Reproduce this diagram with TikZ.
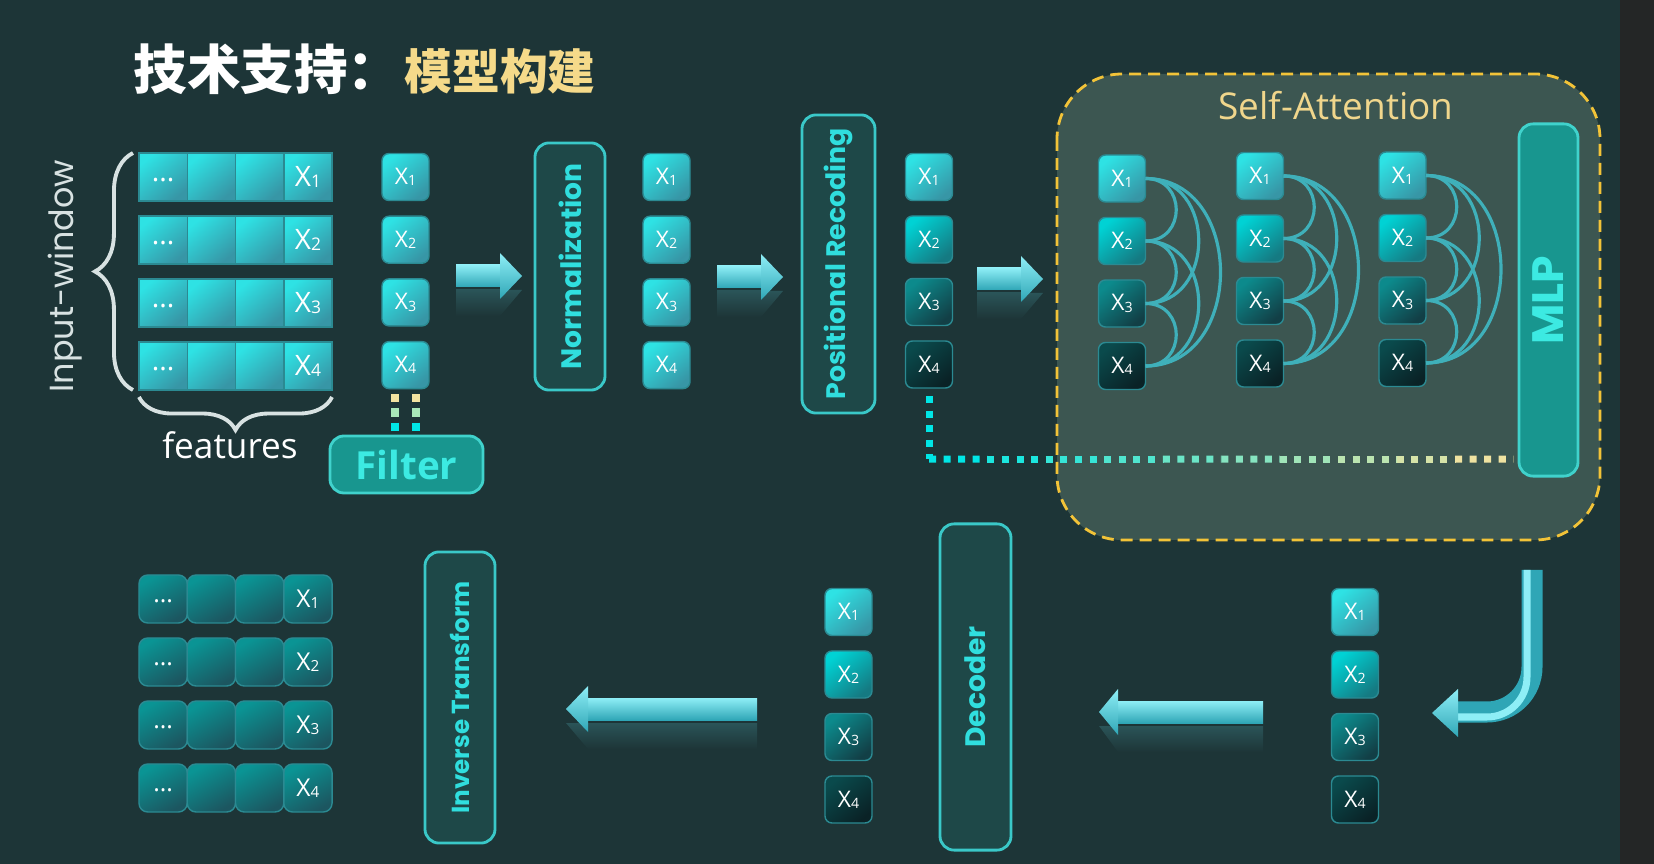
\documentclass[tikz,border=0pt]{standalone}
\usepackage{fontspec}
\setmainfont{Open Sans}
\newfontfamily\popfont{Poppins}
\newfontfamily\cjkfont{Noto Sans CJK SC}
\usetikzlibrary{positioning,calc,decorations.pathreplacing}

\definecolor{bgcol}{HTML}{1D3537}
\definecolor{stripcol}{HTML}{242626}
\definecolor{attfill}{HTML}{3C5651}
\definecolor{attdash}{HTML}{F2C338}
\definecolor{atttext}{HTML}{F0D68C}
\definecolor{titlegold}{HTML}{F5DA8A}
\definecolor{blockfill}{HTML}{1E4848}
\definecolor{blockedge}{HTML}{3AC8C8}
\definecolor{blocktext}{HTML}{30DEDE}
\definecolor{mlpfill}{HTML}{18968F}
\definecolor{mlpedge}{HTML}{40D2CC}
\definecolor{mlptext}{HTML}{3CEAE2}
\definecolor{xedge}{HTML}{2B8A92}
\definecolor{lvAtop}{HTML}{2EE2E4}
\definecolor{lvAbot}{HTML}{3796A6}
\definecolor{lvBtop}{HTML}{00D2D4}
\definecolor{lvBbot}{HTML}{157A82}
\definecolor{lvCtop}{HTML}{0C8A8C}
\definecolor{lvCbot}{HTML}{123F46}
\definecolor{lvDtop}{HTML}{0A4A4C}
\definecolor{lvDbot}{HTML}{0A2226}
\definecolor{outtop}{HTML}{0A9494}
\definecolor{outbot}{HTML}{1C5660}
\definecolor{arccol}{HTML}{3FB0BA}
\definecolor{dotcyn}{HTML}{00E6E6}
\definecolor{dotyel}{HTML}{F3E3A0}
\definecolor{dotmid}{HTML}{A8E8B8}
\definecolor{arrlt}{HTML}{8EEEF6}
\definecolor{arrdk}{HTML}{2FA6B6}
\definecolor{reflcol}{HTML}{2A5458}
\definecolor{bracecol}{HTML}{D8E2E2}

\newcommand{\xsub}[1]{X\raisebox{-0.1ex}{\scalebox{0.62}{#1}}}
\newcommand{\celldots}{\raisebox{-0.6ex}{...}}
%% 3D arrow: tail x, head back x, tip x, centre y
\newcommand{\fatarrow}[4]{%
  \shade[top color=reflcol, bottom color=bgcol] (#1,#4+14) rectangle (#2,#4+40);
  \shade[top color=reflcol, bottom color=bgcol] (#2,#4+14) -- (#3,#4+14) -- (#2,#4+40) -- cycle;
  \shade[top color=arrlt, bottom color=arrdk] (#1,#4-11) rectangle (#2,#4+11);
  \shade[top color=arrlt, bottom color=arrdk] (#2,#4-23) -- (#3,#4) -- (#2,#4+23) -- cycle;
}

\tikzset{
  xbox/.style={draw=xedge, line width=0.4pt, rounded corners=2pt, minimum width=0.47cm,
    minimum height=0.47cm, inner sep=0pt, outer sep=0pt, text=white,
    font=\fontsize{6.5}{7}\selectfont},
  lvA/.style={top color=lvAtop, bottom color=lvAbot, shading angle=40},
  lvB/.style={top color=lvBtop, bottom color=lvBbot, shading angle=40},
  lvC/.style={top color=lvCtop, bottom color=lvCbot, shading angle=40},
  lvD/.style={top color=lvDtop, bottom color=lvDbot, shading angle=40},
  mcell/.style={draw=xedge, line width=0.4pt, top color=lvAtop, bottom color=lvAbot,
    shading angle=40, minimum width=0.4825cm, minimum height=0.48cm, inner sep=0pt,
    outer sep=0pt, text=white, font=\fontsize{8}{9}\selectfont},
  ocell/.style={mcell, top color=outtop, bottom color=outbot, shading angle=30,
    rounded corners=2.5pt, font=\fontsize{7}{8}\selectfont},
  blockbox/.style={draw=blockedge, line width=0.8pt, fill=blockfill, rounded corners=4pt,
    inner sep=0pt, text=blocktext, font=\popfont\bfseries\fontsize{8}{9}\selectfont},
  mlpbox/.style={draw=mlpedge, line width=0.8pt, fill=mlpfill, rounded corners=4pt,
    inner sep=0pt, minimum width=0.59cm, minimum height=3.52cm, text=mlptext,
    font=\popfont\bfseries\fontsize{12.5}{14}\selectfont},
  filterbox/.style={draw=mlpedge, line width=0.8pt, fill=mlpfill, rounded corners=4pt,
    minimum width=1.53cm, minimum height=0.57cm, text=mlptext,
    font=\bfseries\fontsize{11}{12}\selectfont},
  attbox/.style={draw=attdash, fill=attfill, line width=0.8pt,
    dash pattern=on 3.4pt off 2pt, rounded corners=0.65cm},
  attarc/.style={draw=arccol, line width=0.9pt},
  sqdots/.style={line width=0.07cm, dash pattern=on 0.07cm off 0.0753cm},
  bracket/.style={decorate, draw=bracecol, line width=1.1pt}
}

\begin{document}
\begin{tikzpicture}[x=0.01cm,y=-0.01cm]
  \useasboundingbox (0,0) rectangle (1654,864);
  \fill[bgcol] (0,0) rectangle (1654,864);
  \fill[stripcol] (1620,0) rectangle (1654,864);

  %% title
  \node[anchor=base west, inner sep=0pt, font=\cjkfont\bfseries] (title) at (133,90)
    {\textcolor{white}{\fontsize{15.2}{17}\selectfont 技术支持：}\hspace{1pt}%
     \textcolor{titlegold}{\fontsize{13.6}{16}\selectfont 模型构建}};

  %% self-attention frame
  \draw[attbox] (1057,74) rectangle (1600,540);
  \node[text=atttext, font=\fontsize{10.5}{12}\selectfont] (atttitle) at (1336,106) {Self-Attention};

  %% big arrows
  \fatarrow{456}{500}{522}{276}
  \fatarrow{717}{761}{783}{277}
  \fatarrow{977}{1021}{1043}{279}
  \fatarrow{1263}{1118}{1099}{712}
  \fatarrow{757}{588}{566}{709}

  %% turning arrow
  \draw[line width=0.21cm, arrdk, rounded corners=0.45cm] (1532,570) -- (1532,712) -- (1456,712);
  \draw[line width=0.07cm, arrlt, rounded corners=0.4cm] (1527,570) -- (1527,717) -- (1456,717);
  \shade[top color=arrlt, bottom color=arrdk] (1458,689) -- (1432,713) -- (1458,737) -- cycle;

  %% input window
  \foreach \r in {1,...,4} {
    \node[mcell] (m\r1) at (163.1,{177+63*(\r-1)}) {\celldots};
    \node[mcell, right=0pt of m\r1] (m\r2) {};
    \node[mcell, right=0pt of m\r2] (m\r3) {};
    \node[mcell, right=0pt of m\r3] (m\r4) {\xsub{\r}};
  }
  \draw[bracket, decoration={brace, amplitude=0.38cm}]
    ($(m41.south west)+(-6,0)$) -- ($(m11.north west)+(-6,0)$);
  \draw[bracket, decoration={brace, amplitude=0.33cm}]
    ($(m44.south east)+(0,7)$) -- ($(m41.south west)+(0,7)$);
  \node[rotate=90, text=bracecol, font=\popfont\fontsize{9.5}{10}\selectfont] (win) at (65,276) {Input-window};
  \node[text=white, font=\fontsize{10}{11}\selectfont] (feat) at (230,445) {features};

  %% columns
  \foreach \k in {1,...,4} {
    \node[xbox, lvA] (f\k) at (405.5,{177+62.7*(\k-1)}) {\xsub{\k}};
    \node[xbox, lvA] (n\k) at (666.5,{177+62.7*(\k-1)}) {\xsub{\k}};
  }
  \foreach \k/\lv in {1/lvA,2/lvB,3/lvC,4/lvD} {
    \node[xbox, \lv] (p\k) at (929,{177+62.5*(\k-1)}) {\xsub{\k}};
    \node[xbox, \lv] (r\k) at (1355,{612+62.5*(\k-1)}) {\xsub{\k}};
    \node[xbox, \lv] (d\k) at (848.5,{612+62.5*(\k-1)}) {\xsub{\k}};
  }

  %% blocks
  \node[filterbox] (filter) at (406.5,464.5) {Filter};
  \node[blockbox, minimum width=0.70cm, minimum height=2.47cm] (norm) at (570,266.5) {\rotatebox{90}{Normalization}};
  \node[blockbox, minimum width=0.73cm, minimum height=2.98cm,
    font=\popfont\bfseries\fontsize{7.6}{8}\selectfont] (posrec) at (838.5,264) {\rotatebox{90}{Positional Recoding}};
  \node[blockbox, minimum width=0.71cm, minimum height=3.26cm] (dec) at (975.5,687) {\rotatebox{90}{Decoder}};
  \node[blockbox, minimum width=0.70cm, minimum height=2.91cm,
    font=\popfont\bfseries\fontsize{7}{8}\selectfont] (inv) at (460,697.5) {\rotatebox{90}{Inverse Transform}};
  \node[mlpbox] (mlp) at (1548.5,300) {\rotatebox{90}{MLP}};

  %% attention columns
  \foreach \col/\x/\y in {sa/1122/178.5, sb/1260/176, sc/1402.5/175.5} {
    \foreach \k/\lv in {1/lvA,2/lvB,3/lvC,4/lvD}
      \node[xbox, \lv] (\col\k) at (\x,{\y+62.5*(\k-1)}) {\xsub{\k}};
    \foreach \i/\j/\d in {1/2/41,2/3/41,3/4/41,1/3/71,2/4/71,1/4/100}
      \draw[attarc] (\col\i.east) .. controls +(\d,0) and +(\d,0) .. (\col\j.east);
  }

  %% output window
  \foreach \r in {1,...,4} {
    \node[ocell] (o\r1) at (163.1,{599+63*(\r-1)}) {\celldots};
    \node[ocell, right=0pt of o\r1] (o\r2) {};
    \node[ocell, right=0pt of o\r2] (o\r3) {};
    \node[ocell, right=0pt of o\r3] (o\r4) {\xsub{\r}};
  }

  %% dotted links
  \coordinate (fa) at ($(f4.south)+(-10.5,0)$);
  \coordinate (fb) at ($(f4.south)+(10.5,0)$);
  \coordinate (fa2) at (fa |- filter.north);
  \coordinate (fb2) at (fb |- filter.north);
  \foreach \s/\e in {fa/fa2,fb/fb2}
    \foreach \t/\cl in {0.12/dotyel,0.43/dotmid,0.74/dotcyn}
      \draw[line width=0.08cm, \cl] ($(\s)!\t!(\e)$) -- ($(\s)!{\t+0.18}!(\e)$);

  \coordinate (pd) at ($(p4.south)+(0,8)$);
  \coordinate (bend) at ($(p4.south)+(0,71)$);
  \coordinate (mlpend) at ($(bend -| mlp.west)+(-4,0)$);
  \draw[sqdots, dotcyn] (pd) -- (bend);
  \foreach \k [evaluate=\k as \pct using int(11*\k)] in {0,...,9}
    \draw[sqdots, dotyel!\pct!dotcyn] ($(bend)!{\k/10}!(mlpend)$) -- ($(bend)!{(\k+1)/10}!(mlpend)$);
\end{tikzpicture}
\end{document}
